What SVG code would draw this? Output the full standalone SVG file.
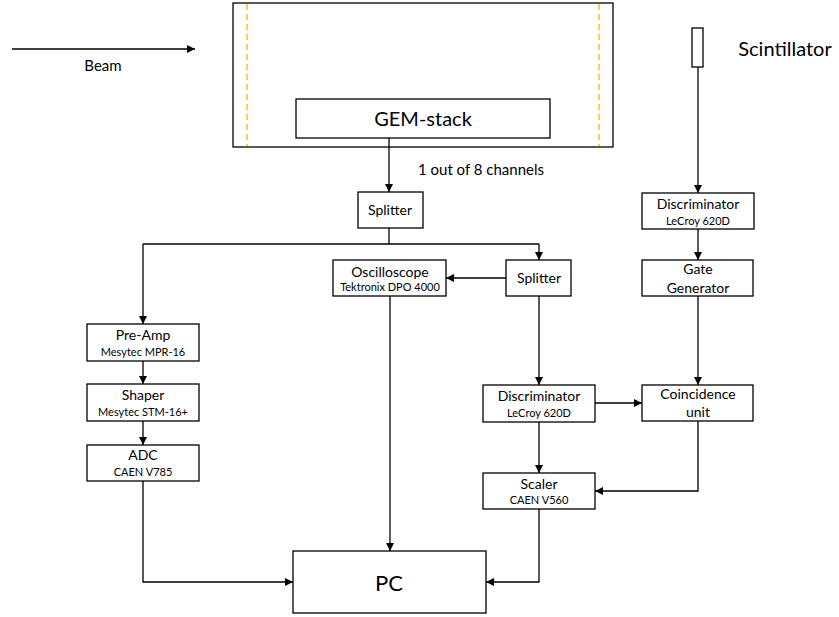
<svg xmlns="http://www.w3.org/2000/svg" width="839" height="617" viewBox="0 0 839 617">
<defs>
<marker id="ah" viewBox="0 0 10 10" refX="10" refY="5" markerWidth="8" markerHeight="8" markerUnits="userSpaceOnUse" orient="auto">
<path d="M0,0 L10,5 L0,10 z" fill="#000"/>
</marker>
<style>
.box{fill:#fff;stroke:#000;stroke-width:1.3}
.ln{fill:none;stroke:#000;stroke-width:1.3}
.arr{fill:none;stroke:#000;stroke-width:1.3;marker-end:url(#ah)}
.dash{fill:none;stroke:#f5b400;stroke-width:1.3;stroke-dasharray:6,4}
text{font-family:Lato,"Liberation Sans",sans-serif;fill:#000;text-anchor:middle}
.m{font-size:14px}
.s{font-size:11px}
</style>
</defs>
<rect width="839" height="617" fill="#fff"/>
<g id="beam">
<line class="arr" x1="12" y1="49" x2="195" y2="49"/>
<text x="103" y="71" style="font-size:15px">Beam</text>
</g>
<g id="chamber">
<rect class="box" x="233" y="3" width="380" height="144"/>
<line class="dash" x1="247" y1="4" x2="247" y2="146"/>
<line class="dash" x1="599" y1="4" x2="599" y2="146"/>
</g>
<g id="gem">
<rect class="box" x="296" y="99" width="254" height="39"/>
<text x="423" y="126" style="font-size:20px">GEM-stack</text>
</g>
<g id="scint">
<rect class="box" x="692" y="28" width="11" height="39"/>
<text x="785" y="56" style="font-size:20px">Scintillator</text>
</g>
<text x="481" y="175" style="font-size:15px">1 out of 8 channels</text>
<g id="splitter1">
<rect class="box" x="358" y="192" width="65" height="36"/>
<text class="m" x="390" y="215">Splitter</text>
</g>
<g id="osc">
<rect class="box" x="333" y="260" width="113" height="36"/>
<text class="m" x="390" y="277">Oscilloscope</text>
<text class="s" x="390" y="291">Tektronix DPO 4000</text>
</g>
<g id="splitter2">
<rect class="box" x="506" y="260" width="65" height="36"/>
<text class="m" x="539" y="283">Splitter</text>
</g>
<g id="disc1">
<rect class="box" x="642" y="193" width="112" height="36"/>
<text class="m" x="698" y="209">Discriminator</text>
<text class="s" x="698" y="225">LeCroy 620D</text>
</g>
<g id="gate">
<rect class="box" x="642" y="260" width="111" height="36"/>
<text class="m" x="698" y="274">Gate</text>
<text class="m" x="698" y="293">Generator</text>
</g>
<g id="preamp">
<rect class="box" x="87" y="324" width="112" height="37"/>
<text class="m" x="143" y="340">Pre-Amp</text>
<text class="s" x="143" y="356">Mesytec MPR-16</text>
</g>
<g id="shaper">
<rect class="box" x="87" y="384" width="112" height="37"/>
<text class="m" x="143" y="400">Shaper</text>
<text class="s" x="143" y="416">Mesytec STM-16+</text>
</g>
<g id="adc">
<rect class="box" x="87" y="445" width="112" height="36"/>
<text class="m" x="143" y="460">ADC</text>
<text class="s" x="143" y="476">CAEN V785</text>
</g>
<g id="disc2">
<rect class="box" x="483" y="385" width="112" height="37"/>
<text class="m" x="539" y="401">Discriminator</text>
<text class="s" x="539" y="417">LeCroy 620D</text>
</g>
<g id="coinc">
<rect class="box" x="642" y="385" width="111" height="36"/>
<text class="m" x="698" y="399">Coincidence</text>
<text class="m" x="698" y="417">unit</text>
</g>
<g id="scaler">
<rect class="box" x="483" y="473" width="112" height="36"/>
<text class="m" x="539" y="489">Scaler</text>
<text class="s" x="539" y="504">CAEN V560</text>
</g>
<g id="pc">
<rect class="box" x="293" y="551" width="193" height="62"/>
<text x="389" y="591" style="font-size:22px">PC</text>
</g>
<g id="connectors">
<line class="arr" x1="389" y1="138" x2="389" y2="192"/>
<line class="arr" x1="698" y1="67" x2="698" y2="193"/>
<polyline class="ln" points="389,228 389,244"/>
<polyline class="arr" points="143,244 143,324"/>
<polyline class="ln" points="143,244 539,244"/>
<polyline class="arr" points="539,244 539,260"/>
<line class="arr" x1="506" y1="278" x2="446" y2="278"/>
<line class="arr" x1="698" y1="229" x2="698" y2="260"/>
<line class="arr" x1="143" y1="361" x2="143" y2="384"/>
<line class="arr" x1="143" y1="421" x2="143" y2="445"/>
<line class="arr" x1="390" y1="296" x2="390" y2="551"/>
<line class="arr" x1="539" y1="296" x2="539" y2="385"/>
<line class="arr" x1="698" y1="296" x2="698" y2="385"/>
<line class="arr" x1="595" y1="403" x2="642" y2="403"/>
<line class="arr" x1="539" y1="422" x2="539" y2="473"/>
<polyline class="arr" points="698,421 698,491 595,491"/>
<polyline class="arr" points="143,481 143,582 293,582"/>
<polyline class="arr" points="539,509 539,582 486,582"/>
</g>
</svg>
